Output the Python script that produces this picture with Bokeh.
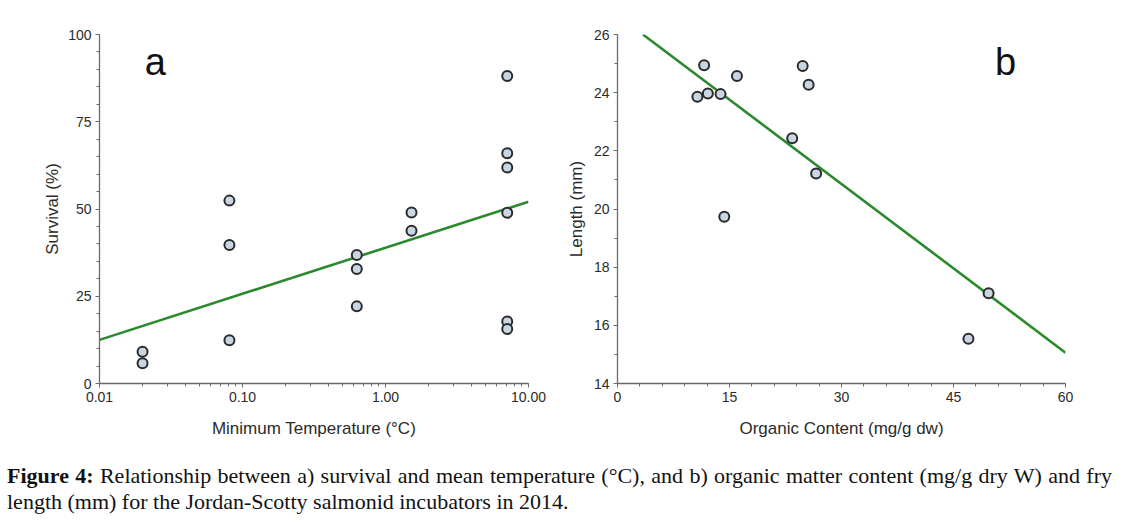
from bokeh.plotting import figure
from bokeh.layouts import column, row
from bokeh.models import (Div, LogTicker, SingleIntervalTicker, PrintfTickFormatter,
                          Range1d, Label)
from bokeh.embed import file_html
from bokeh.resources import INLINE

# ---------------- data ----------------
# Panel a: minimum temperature (°C, log scale) vs survival (%)
temp_a = [0.02, 0.02, 0.081, 0.081, 0.081, 0.63, 0.63, 0.63, 1.52, 1.52,
          7.1, 7.1, 7.1, 7.1, 7.1, 7.1]
surv_a = [9.1, 5.8, 52.4, 39.7, 12.4, 36.8, 32.8, 22.1, 49.0, 43.8,
          88.1, 66.0, 61.9, 48.9, 17.8, 15.6]
fit_a_x = [0.01, 10.0]
fit_a_y = [12.5, 52.1]

# Panel b: organic content (mg/g dw) vs length (mm)
org_b = [11.6, 10.7, 12.1, 13.8, 16.0, 24.8, 25.6, 23.4, 26.6, 14.3, 49.7, 47.0]
len_b = [24.94, 23.86, 23.97, 23.95, 24.57, 24.92, 24.27, 22.43, 21.22, 19.73, 17.10, 15.54]
fit_b_x = [3.4, 60.0]
fit_b_y = [26.0, 15.06]

caption_bold = "Figure 4:"
caption_line1 = (" Relationship between a) survival and mean temperature (°C), and b) "
                 "organic matter content (mg/g dry W) and fry")
caption_line2 = "length (mm) for the Jordan-Scotty salmonid incubators in 2014."

GREEN = "#2b8a2e"
FILL = "#c8d5e2"
EDGE = "#2a2a2a"
AXIS = "#6a6a6a"
TXT = "#2b2b2b"
SANS = "Liberation Sans"


def style(p):
    p.toolbar_location = None
    p.outline_line_color = None
    p.grid.visible = False
    p.background_fill_color = "white"
    p.border_fill_color = "white"
    for ax in p.axis:
        ax.axis_line_color = AXIS
        ax.axis_line_width = 1.3
        ax.major_tick_line_color = AXIS
        ax.minor_tick_line_color = AXIS
        ax.major_tick_in = 0
        ax.major_tick_out = 4
        ax.minor_tick_in = 0
        ax.minor_tick_out = 3
        ax.major_label_text_font = SANS
        ax.major_label_text_font_size = "14px"
        ax.major_label_text_color = TXT
        ax.axis_label_text_font = SANS
        ax.axis_label_text_font_size = "17px"
        ax.axis_label_text_font_style = "normal"
        ax.axis_label_text_color = TXT
        ax.major_label_standoff = 4


FIG_H = 458
TOP = 34
BOTTOM = FIG_H - TOP - 349

# ---------------- panel a ----------------
pa = figure(width=563, height=FIG_H, x_axis_type="log", output_backend="svg",
            toolbar_location=None,
            x_range=Range1d(0.01, 10.0), y_range=Range1d(0, 100),
            min_border_left=99, min_border_right=35, min_border_top=TOP,
            min_border_bottom=BOTTOM)
pa.xaxis.ticker = LogTicker(desired_num_ticks=4, num_minor_ticks=10)
pa.xaxis.formatter = PrintfTickFormatter(format="%.2f")
pa.yaxis.ticker = SingleIntervalTicker(interval=25, num_minor_ticks=5)
pa.xaxis.axis_label = "Minimum Temperature (°C)"
pa.yaxis.axis_label = "Survival (%)"
style(pa)
pa.xaxis.axis_label_standoff = 14
pa.yaxis.axis_label_standoff = 3
pa.line(fit_a_x, fit_a_y, line_color=GREEN, line_width=2.6)
pa.scatter(temp_a, surv_a, marker="circle", size=10, fill_color=FILL,
           line_color=EDGE, line_width=2)
pa.add_layout(Label(x=0.0246, y=92, text="a", text_font=SANS, text_font_size="38px",
                    text_align="center", text_baseline="alphabetic", text_color="#111111"))

# ---------------- panel b ----------------
pb = figure(width=556, height=FIG_H, output_backend="svg", toolbar_location=None,
            x_range=Range1d(0, 60), y_range=Range1d(14, 26),
            min_border_left=54, min_border_right=54, min_border_top=TOP,
            min_border_bottom=BOTTOM)
pb.xaxis.ticker = SingleIntervalTicker(interval=15, num_minor_ticks=5)
pb.yaxis.ticker = SingleIntervalTicker(interval=2, num_minor_ticks=2)
pb.xaxis.axis_label = "Organic Content (mg/g dw)"
pb.yaxis.axis_label = "Length (mm)"
style(pb)
pb.xaxis.axis_label_standoff = 14
pb.yaxis.axis_label_standoff = 5
pb.line(fit_b_x, fit_b_y, line_color=GREEN, line_width=2.6)
pb.scatter(org_b, len_b, marker="circle", size=10, fill_color=FILL,
           line_color=EDGE, line_width=2)
pb.add_layout(Label(x=51.96, y=25.04, text="b", text_font=SANS, text_font_size="38px",
                    text_align="center", text_baseline="alphabetic", text_color="#111111"))

# ---------------- caption ----------------
cap = Div(
    text=(
        "<div style=\"font-family:'Liberation Serif','Times New Roman',serif;font-size:22px;"
        "color:#111;line-height:26px;width:1105px;margin-left:2px;\">"
        "<div style='text-align:justify;text-align-last:justify;white-space:nowrap;'>"
        f"<b>{caption_bold}</b>{caption_line1}</div>"
        f"<div>{caption_line2}</div></div>"
    ),
    width=1119, height=52,
)

layout = column(row(pa, pb, spacing=0), cap, spacing=0)

with open("out.html", "w") as f:
    f.write(file_html(layout, INLINE))
